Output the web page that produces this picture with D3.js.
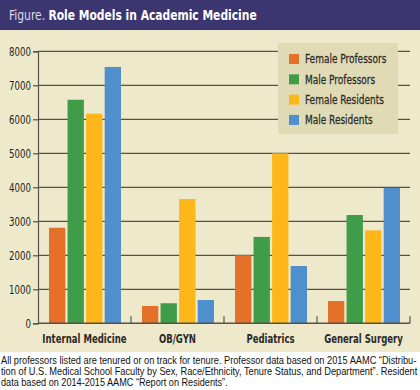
<!DOCTYPE html>
<html><head><meta charset="utf-8">
<script src="https://cdn.jsdelivr.net/npm/d3@7"></script>
<style>
body{margin:0;padding:0;background:#fff;}
svg{display:block;}
</style></head>
<body>
<svg id="c" width="420" height="390"></svg>
<script>
const categories = ["Internal Medicine", "OB/GYN", "Pediatrics", "General Surgery"];
const seriesNames = ["Female Professors", "Male Professors", "Female Residents", "Male Residents"];
const femaleProfessors = [2810, 510, 2000, 655];
const maleProfessors = [6575, 590, 2540, 3185];
const femaleResidents = [6165, 3655, 5000, 2735];
const maleResidents = [7540, 685, 1685, 3980];
const yTicks = [0, 1000, 2000, 3000, 4000, 5000, 6000, 7000, 8000];
const colors = ["#e5702a", "#3f9c48", "#fdb71b", "#4f8fcd"];
const footLines = [
  "All professors listed are tenured or on track for tenure. Professor data based on 2015 AAMC \u201CDistribu-",
  "tion of U.S. Medical School Faculty by Sex, Race/Ethnicity, Tenure Status, and Department\u201D. Resident",
  "data based on 2014-2015 AAMC \u201CReport on Residents\u201D."
];

(function(){
const series = [femaleProfessors, maleProfessors, femaleResidents, maleResidents];
const svg = d3.select("#c");
const W = 420;
const cond = "'DejaVu Sans Condensed', 'DejaVu Sans', sans-serif";

// horizontally compress a text around its anchor x by factor k
function squeeze(node, k) {
  const x = +node.getAttribute("x") || 0;
  const prev = node.getAttribute("transform") || "";
  node.setAttribute("transform", `${prev} translate(${x},0) scale(${k},1) translate(${-x},0)`);
}
function fitTo(node, w) { squeeze(node, w / node.getComputedTextLength()); }

// backgrounds
svg.append("rect").attr("x",0).attr("y",0).attr("width",W).attr("height",352).attr("fill","#efe9cb");
svg.append("rect").attr("x",0).attr("y",0).attr("width",W).attr("height",30).attr("fill","#3b3570");
const title = svg.append("text").attr("x",9).attr("y",20.5).attr("font-family",cond)
  .attr("font-size",14.5).attr("fill","#fff");
title.append("tspan").attr("fill","#dcdae8").attr("font-weight","normal").text("Figure. ");
title.append("tspan").attr("font-weight","bold").text("Role Models in Academic Medicine");
fitTo(title.node(), 248);

const pl = 38, pr = 410, pt = 51.3, pb = 323.3;
const y = d3.scaleLinear().domain([0, 8000]).range([pb, pt]);
const x0 = d3.scaleBand().domain(categories).range([pl, pr]).paddingInner(0).paddingOuter(0);
const x1 = d3.scaleBand().domain(d3.range(4)).range([11, x0.bandwidth() - 10]).paddingInner(0.12);

// gridlines
svg.append("g").selectAll("line").data(yTicks.filter(d => d > 0)).join("line")
  .attr("x1", pl).attr("x2", pr)
  .attr("y1", d => y(d)).attr("y2", d => y(d))
  .attr("stroke", "#55524a").attr("stroke-width", 1.2);

// bars
const bg = svg.append("g");
categories.forEach((cat, ci) => {
  series.forEach((s, si) => {
    bg.append("rect")
      .attr("x", x0(cat) + x1(si))
      .attr("y", y(s[ci]))
      .attr("width", x1.bandwidth())
      .attr("height", y(0) - y(s[ci]))
      .attr("fill", colors[si]);
  });
});

// y axis
const yAxis = d3.axisLeft(y).tickValues(yTicks).tickSize(5).tickPadding(2).tickFormat(d3.format("d"));
const ya = svg.append("g").attr("transform", `translate(${pl},0)`).call(yAxis);
ya.select(".domain").attr("stroke","#55524a").attr("stroke-width",1.2);
ya.selectAll(".tick line").attr("stroke","#55524a").attr("stroke-width",1.2);
ya.selectAll("text").attr("font-family",cond).attr("font-size",12).attr("fill","#222")
  .each(function(){ squeeze(this, 0.8); });

// x axis baseline and separators
svg.append("line").attr("x1",pl).attr("x2",pr).attr("y1",pb).attr("y2",pb)
  .attr("stroke","#55524a").attr("stroke-width",1.4);
const seps = categories.slice(1).map(d => x0(d)).concat([pr]);
svg.append("g").selectAll("line").data(seps).join("line")
  .attr("x1", d => d).attr("x2", d => d)
  .attr("y1", pb).attr("y2", pb - 7)
  .attr("stroke","#55524a").attr("stroke-width",1.2);
svg.append("g").selectAll("text").data(categories).join("text")
  .attr("x", d => x0(d) + x0.bandwidth()/2).attr("y", 343)
  .attr("text-anchor","middle").attr("font-family",cond).attr("font-weight","bold")
  .attr("font-size",12.5).attr("fill","#2a2a2a").text(d => d)
  .each(function(){ squeeze(this, 0.76); });

// legend
const lg = svg.append("g");
lg.append("rect").attr("x",278).attr("y",43).attr("width",120).attr("height",91).attr("fill","#e0dbb4");
seriesNames.forEach((n, i) => {
  const cy = 59 + i * 20.3;
  lg.append("rect").attr("x",289).attr("y",cy-5).attr("width",10).attr("height",10).attr("fill",colors[i]);
  lg.append("text").attr("x",305).attr("y",cy+4.5).attr("font-family",cond)
    .attr("font-size",12.5).attr("fill","#2a2a2a").attr("stroke","#2a2a2a").attr("stroke-width",0.25)
    .text(n).each(function(){ squeeze(this, 0.8); });
});

// footer
const footLens = [416, 417, 227];
footLines.forEach((t, i) => {
  svg.append("text").attr("x",1).attr("y",364.5 + i*11)
    .attr("font-family","'Liberation Sans', Arial, sans-serif").attr("font-size",10.3).attr("fill","#111")
    .text(t).each(function(){ fitTo(this, footLens[i]); });
});
})();
</script>
</body></html>
